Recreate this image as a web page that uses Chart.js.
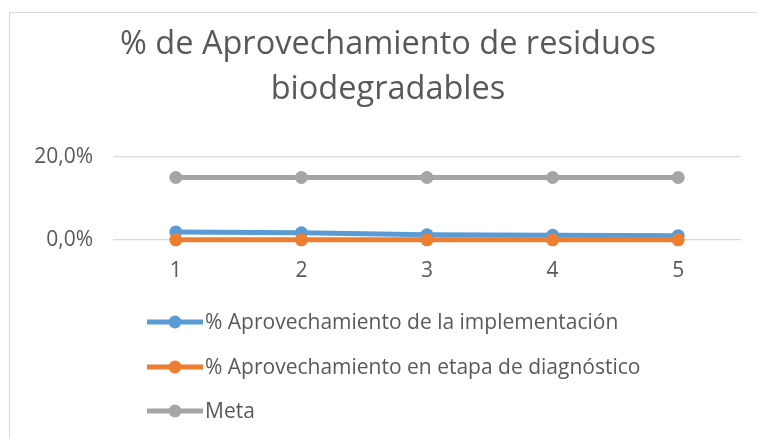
<!DOCTYPE html>
<html>
<head>
<meta charset="utf-8">
<script src="https://cdn.jsdelivr.net/npm/chart.js"></script>
<style>
  html, body { margin: 0; padding: 0; background: #fff; overflow: hidden; }
  #frame { position: absolute; left: 9px; top: 12px; width: 800px; height: 500px; border: 1px solid #d9d9d9; }
  #wrap { position: absolute; left: 0; top: 0; width: 757px; height: 439px; }
</style>
</head>
<body>
<div id="frame"></div>
<div id="wrap"><canvas id="chart" width="757" height="439"></canvas></div>
<script>
// data
const periods = ['1', '2', '3', '4', '5'];
const implementacion = [1.9, 1.7, 1.2, 1.1, 1.0];
const diagnostico = [0, 0, 0, 0, 0];
const meta = [15, 15, 15, 15, 15];
const yTicks = [0, 20];

const FONT = '"Open Sans", Lato, sans-serif';
const TEXT = '#595959';

// legend drawn as a vertical, left-aligned list like the Excel original
const listLegend = {
  id: 'listLegend',
  afterDraw(chart) {
    const ctx = chart.ctx;
    const rows = [322, 367, 411];
    chart.data.datasets.forEach((ds, i) => {
      const y = rows[i];
      ctx.save();
      ctx.strokeStyle = ds.borderColor;
      ctx.lineWidth = 5;
      ctx.beginPath();
      ctx.moveTo(147, y);
      ctx.lineTo(203, y);
      ctx.stroke();
      ctx.fillStyle = ds.borderColor;
      ctx.beginPath();
      ctx.arc(175, y, 6.5, 0, Math.PI * 2);
      ctx.fill();
      ctx.fillStyle = TEXT;
      ctx.font = '21px ' + FONT;
      ctx.textBaseline = 'middle';
      ctx.fillText(ds.label, 205, y + 1);
      ctx.restore();
    });
  }
};

new Chart(document.getElementById('chart'), {
  type: 'line',
  data: {
    labels: periods,
    datasets: [
      { label: '% Aprovechamiento de la implementación', data: implementacion, borderColor: '#5B9BD5', backgroundColor: '#5B9BD5', order: 1, clip: false },
      { label: '% Aprovechamiento en etapa de diagnóstico', data: diagnostico, borderColor: '#ED7D31', backgroundColor: '#ED7D31', order: 0, clip: false },
      { label: 'Meta', data: meta, borderColor: '#A5A5A5', backgroundColor: '#A5A5A5', order: 2, clip: false }
    ]
  },
  options: {
    responsive: false,
    animation: false,
    devicePixelRatio: 1,
    layout: { padding: { top: 22, right: 16, bottom: 136, left: 35 } },
    elements: {
      line: { borderWidth: 5, tension: 0 },
      point: { radius: 6.5, hoverRadius: 6.5, borderWidth: 0 }
    },
    plugins: {
      legend: { display: false },
      tooltip: { enabled: false },
      title: {
        display: true,
        text: ['% de Aprovechamiento de residuos', 'biodegradables'],
        color: TEXT,
        font: { family: FONT, size: 32.5, weight: 'normal', lineHeight: 1.38 },
        padding: { top: 0, bottom: 45 }
      }
    },
    scales: {
      x: {
        offset: true,
        grid: { display: false, drawTicks: false },
        border: { display: false },
        ticks: { color: TEXT, font: { family: FONT, size: 21 }, padding: 19 }
      },
      y: {
        min: 0,
        max: 20,
        afterBuildTicks(scale) { scale.ticks = yTicks.map(v => ({ value: v })); },
        afterFit(scale) { scale.width = 78; },
        grid: { color: '#d9d9d9', lineWidth: 1.3, drawTicks: false },
        border: { display: false },
        ticks: {
          color: TEXT,
          font: { family: FONT, size: 21 },
          padding: 20,
          callback: v => v.toFixed(1).replace('.', ',') + '%'
        }
      }
    }
  },
  plugins: [listLegend]
});
</script>
</body>
</html>
